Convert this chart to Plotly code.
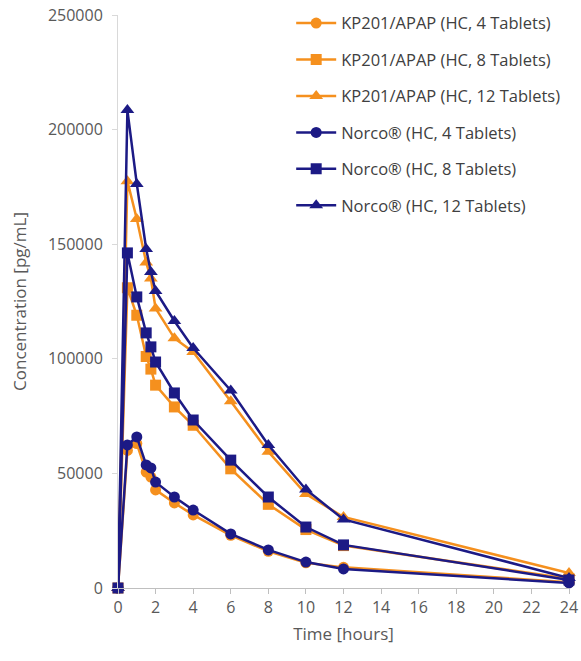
import plotly.graph_objects as go

time_h = [0, 0.5, 1, 1.5, 1.75, 2, 3, 4, 6, 8, 10, 12, 24]

kp_4 = [0, 60000, 63000, 50600, 48400, 42800, 37100, 31900, 23000, 16000, 11000, 9000, 2500]
kp_8 = [0, 131000, 119000, 101000, 95500, 88500, 79000, 71000, 52000, 36500, 25500, 18500, 4000]
kp_12 = [0, 177500, 161000, 142000, 135000, 122000, 109000, 103000, 81500, 59500, 41000, 31000, 6500]
norco_4 = [0, 62400, 65900, 53700, 52400, 46200, 39700, 34000, 23600, 16600, 11300, 8300, 2200]
norco_8 = [0, 146200, 127000, 111300, 105200, 98600, 85100, 73300, 55800, 39700, 26600, 18800, 3500]
norco_12 = [0, 208500, 176300, 147900, 137900, 129600, 116500, 104700, 86200, 62400, 43000, 29900, 4400]

series_names = [
    "KP201/APAP (HC, 4 Tablets)",
    "KP201/APAP (HC, 8 Tablets)",
    "KP201/APAP (HC, 12 Tablets)",
    "Norco\u00ae (HC, 4 Tablets)",
    "Norco\u00ae (HC, 8 Tablets)",
    "Norco\u00ae (HC, 12 Tablets)",
]
series_values = [kp_4, kp_8, kp_12, norco_4, norco_8, norco_12]

ORANGE = "#F5901E"
NAVY = "#1C1A85"
colors = [ORANGE, ORANGE, ORANGE, NAVY, NAVY, NAVY]
symbols = ["circle", "square", "triangle-up", "circle", "square", "triangle-up"]

fig = go.Figure()
for i, (name, vals) in enumerate(zip(series_names, series_values)):
    fig.add_trace(go.Scatter(
        x=time_h, y=vals, name=name, mode="lines+markers",
        line=dict(color=colors[i], width=2.5),
        marker=dict(symbol=symbols[i], size=11 if symbols[i] != "triangle-up" else 12,
                    color=colors[i]),
        cliponaxis=False,
        legendgroup=f"g{i}",
    ))

FONT = "Open Sans, Liberation Sans, sans-serif"
fig.update_layout(
    width=581, height=661,
    margin=dict(l=118, r=12, t=15, b=73, autoexpand=False),
    paper_bgcolor="white", plot_bgcolor="white",
    font=dict(family=FONT, size=15, color="#595959"),
    showlegend=True,
    legend=dict(
        x=0.384, y=1.016, xanchor="left", yanchor="top",
        font=dict(family=FONT, size=16.5, color="#404040"),
        tracegroupgap=12, itemwidth=40,
        bgcolor="rgba(0,0,0,0)",
    ),
    xaxis=dict(
        range=[0, 24], tickmode="linear", tick0=0, dtick=2,
        automargin=False,
        showgrid=False, zeroline=False,
        showline=True, linecolor="#BFBFBF", linewidth=1,
        ticks="outside", ticklen=5, tickcolor="#BFBFBF",
        tickfont=dict(size=16, color="#595959"),
        title=dict(text="Time [hours]", font=dict(size=17, color="#595959"), standoff=10),
    ),
    yaxis=dict(
        range=[0, 250000], tickmode="linear", tick0=0, dtick=50000,
        tickformat="d", automargin=False,
        showgrid=False, zeroline=False,
        showline=True, linecolor="#D9D9D9", linewidth=1,
        ticks="outside", ticklen=5, tickcolor="#D9D9D9",
        ticklabelstandoff=6,
        tickfont=dict(size=16, color="#595959"),
        title=dict(text="Concentration [pg/mL]", font=dict(size=17, color="#595959"), standoff=16),
    ),
)

fig.write_html("out.html")
